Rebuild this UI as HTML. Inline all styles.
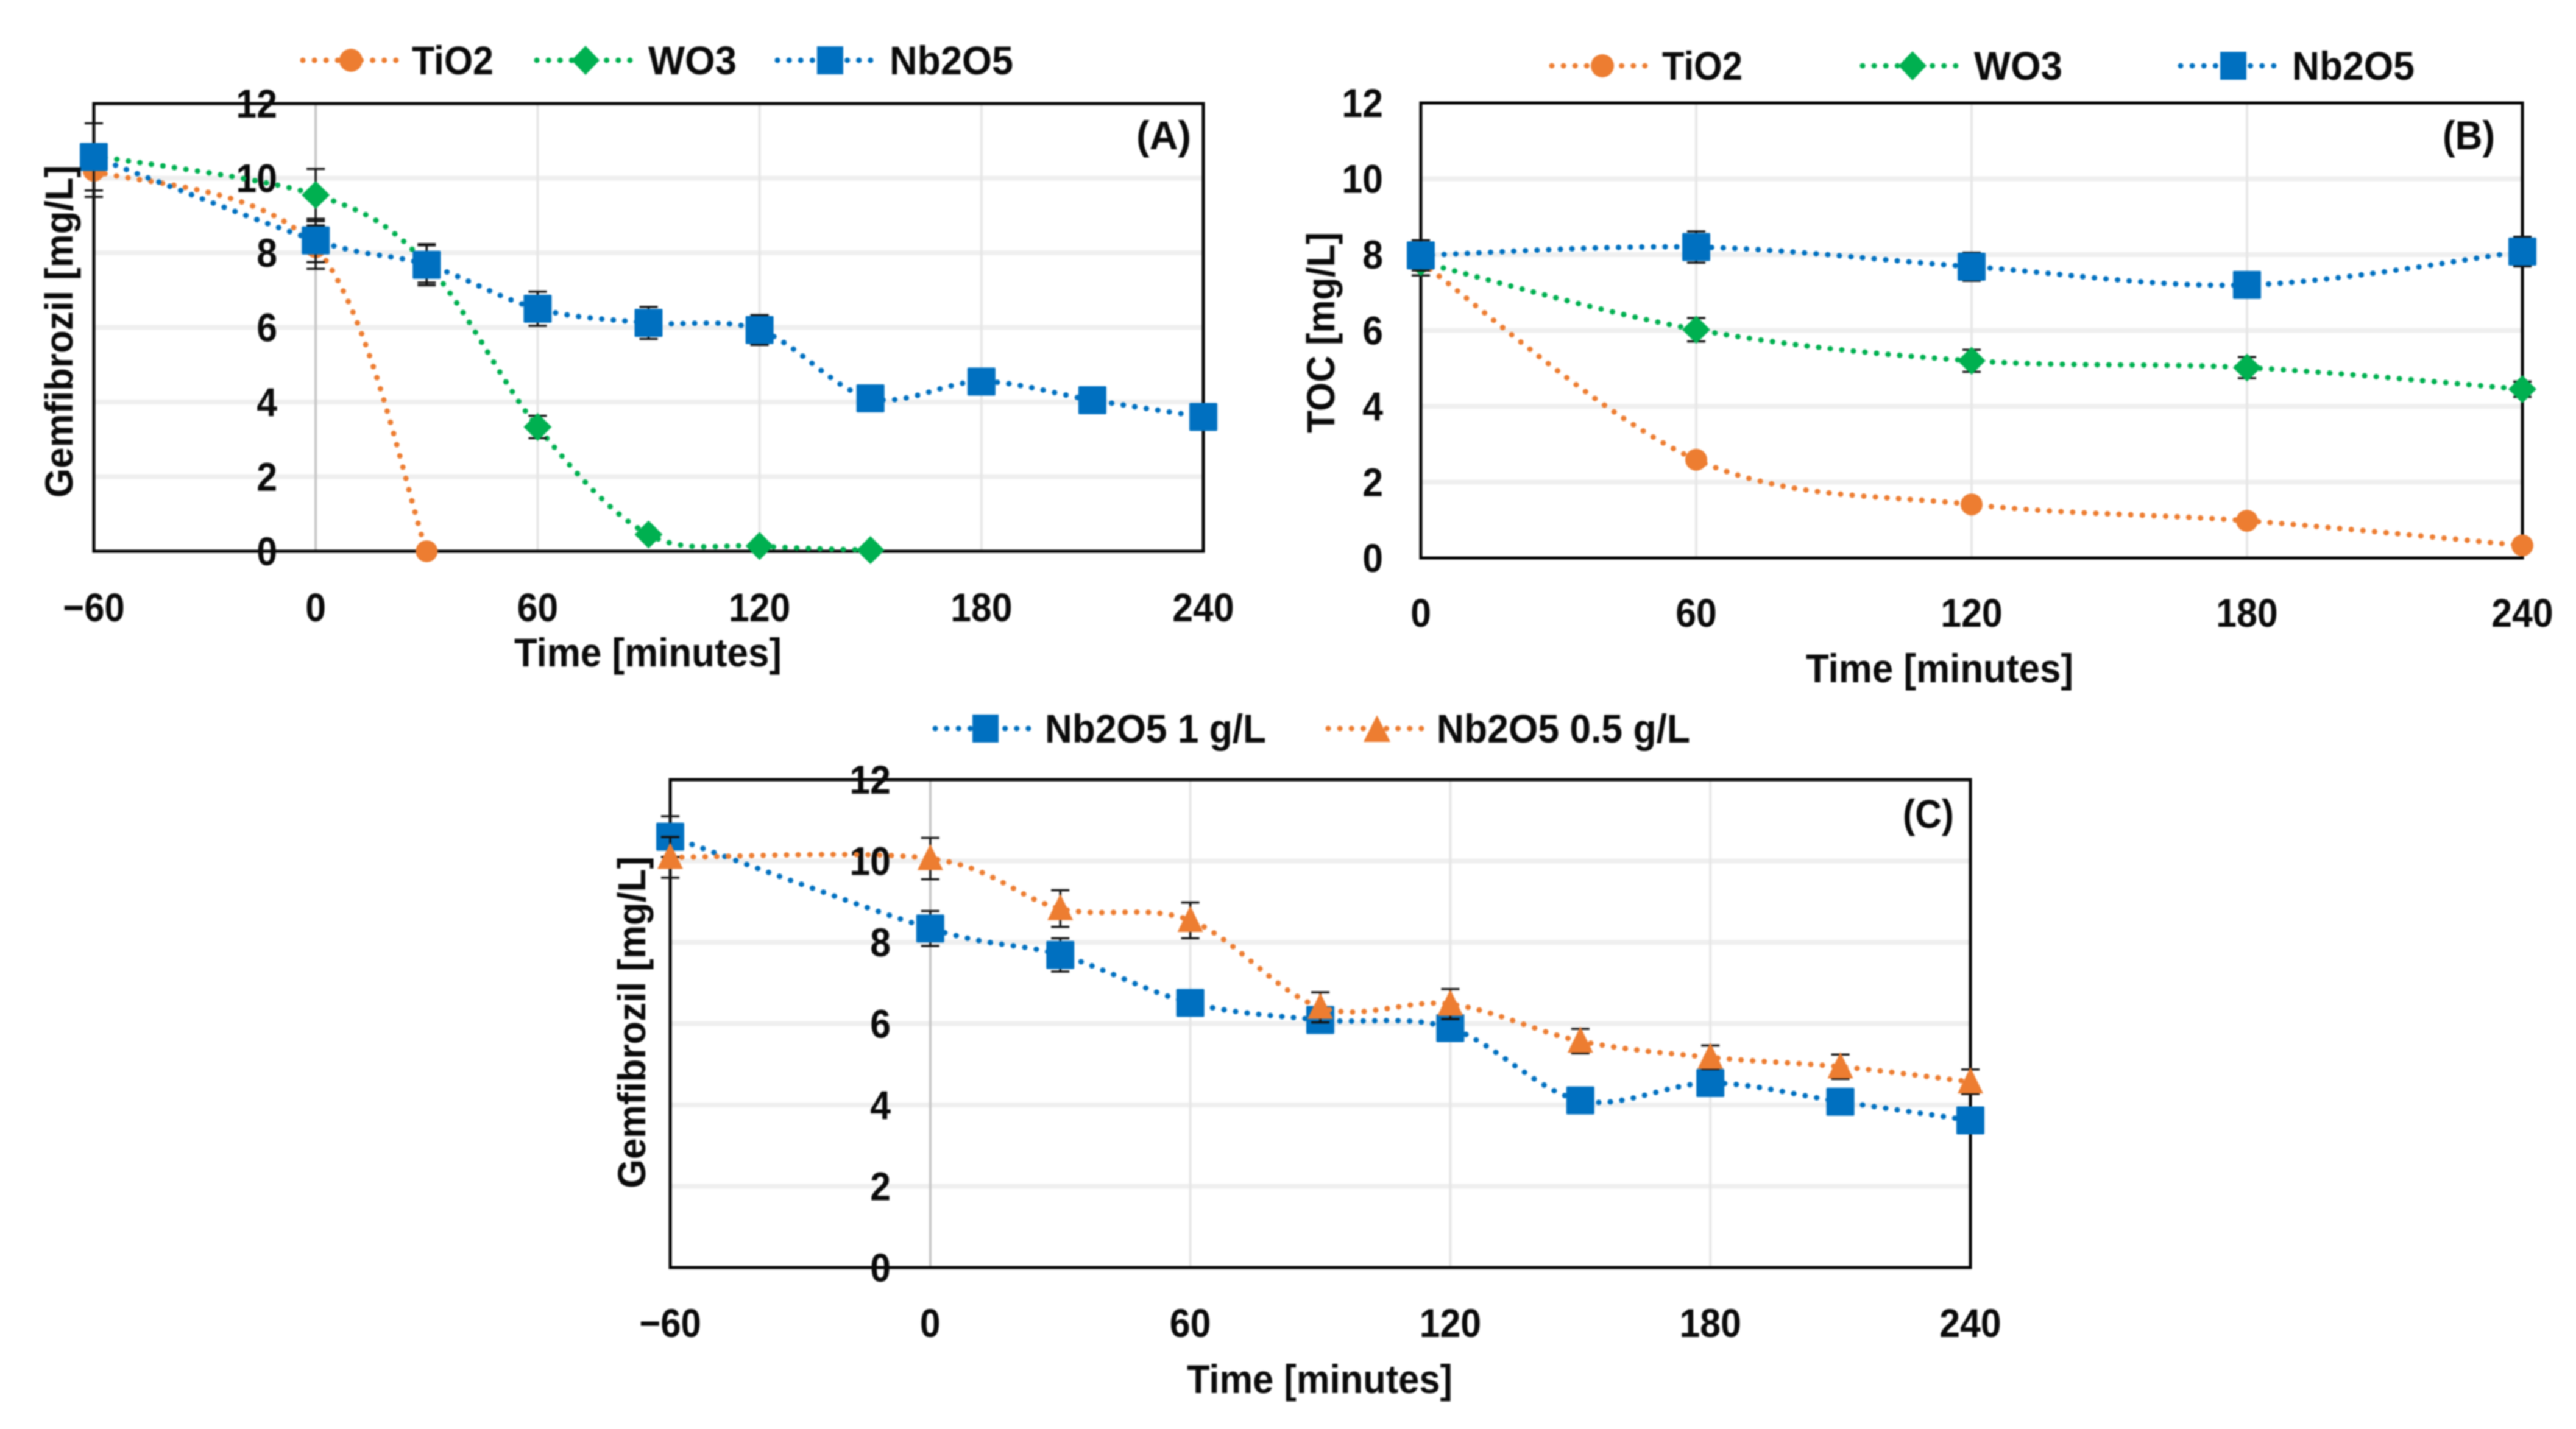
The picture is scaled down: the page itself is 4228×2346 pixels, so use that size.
<!DOCTYPE html>
<html lang="en">
<head>
<meta charset="utf-8">
<title>Gemfibrozil and TOC removal charts</title>
<style>
html,body{margin:0;padding:0;background:#fff;width:4228px;height:2346px;overflow:hidden}
svg{display:block;filter:blur(1.4px)}
text{font-family:"Liberation Sans",sans-serif;font-weight:bold;fill:#0a0a0a}
</style>
</head>
<body>
<svg id="figure" xmlns="http://www.w3.org/2000/svg" width="4228" height="2346" viewBox="0 0 4228 2346">
  <rect width="4228" height="2346" fill="#fff"/>
  <g id="chart-a"></g>
  <g id="chart-b"></g>
  <g id="chart-c"></g>

  <text transform="translate(119,817) rotate(-90)" font-size="64" textLength="546" lengthAdjust="spacingAndGlyphs">Gemfibrozil [mg/L]</text>
  <text x="844" y="1094" font-size="66" textLength="439" lengthAdjust="spacingAndGlyphs">Time [minutes]</text>
  <text x="1865" y="245" font-size="66" textLength="90" lengthAdjust="spacingAndGlyphs">(A)</text>

  <text transform="translate(2190,711) rotate(-90)" font-size="64" textLength="330" lengthAdjust="spacingAndGlyphs">TOC [mg/L]</text>
  <text x="2964" y="1120" font-size="66" textLength="439" lengthAdjust="spacingAndGlyphs">Time [minutes]</text>
  <text x="4009" y="245" font-size="66" textLength="86" lengthAdjust="spacingAndGlyphs">(B)</text>

  <text transform="translate(1059,1951) rotate(-90)" font-size="64" textLength="545" lengthAdjust="spacingAndGlyphs">Gemfibrozil [mg/L]</text>
  <text x="1948" y="2287" font-size="66" textLength="436" lengthAdjust="spacingAndGlyphs">Time [minutes]</text>
  <text x="3123" y="1359" font-size="66" textLength="84" lengthAdjust="spacingAndGlyphs">(C)</text>

  <g>
    <g>
      <line x1="497" y1="99" x2="650" y2="99" stroke="#ED7D31" stroke-width="9" stroke-linecap="round" stroke-dasharray="0.1 19"/>
      <circle cx="576" cy="99" r="19" fill="#ED7D31"/>
      <text x="676" y="122" font-size="66" textLength="134" lengthAdjust="spacingAndGlyphs">TiO2</text>
    </g>
    <g>
      <line x1="881" y1="99" x2="1038" y2="99" stroke="#00B050" stroke-width="9" stroke-linecap="round" stroke-dasharray="0.1 19"/>
      <polygon points="961,75 984,99 961,123 938,99" fill="#00B050"/>
      <text x="1064" y="122" font-size="66" textLength="145" lengthAdjust="spacingAndGlyphs">WO3</text>
    </g>
    <g>
      <line x1="1276" y1="99" x2="1433" y2="99" stroke="#0070C0" stroke-width="9" stroke-linecap="round" stroke-dasharray="0.1 19"/>
      <rect x="1341" y="76" width="43" height="46" fill="#0070C0"/>
      <text x="1460" y="122" font-size="66" textLength="203" lengthAdjust="spacingAndGlyphs">Nb2O5</text>
    </g>
  </g>

  <g>
    <g>
      <line x1="2547" y1="108" x2="2700" y2="108" stroke="#ED7D31" stroke-width="9" stroke-linecap="round" stroke-dasharray="0.1 19"/>
      <circle cx="2630" cy="108" r="19" fill="#ED7D31"/>
      <text x="2728" y="131" font-size="66" textLength="132" lengthAdjust="spacingAndGlyphs">TiO2</text>
    </g>
    <g>
      <line x1="3057" y1="108" x2="3213" y2="108" stroke="#00B050" stroke-width="9" stroke-linecap="round" stroke-dasharray="0.1 19"/>
      <polygon points="3139,84 3162,108 3139,132 3116,108" fill="#00B050"/>
      <text x="3240" y="131" font-size="66" textLength="145" lengthAdjust="spacingAndGlyphs">WO3</text>
    </g>
    <g>
      <line x1="3579" y1="108" x2="3735" y2="108" stroke="#0070C0" stroke-width="9" stroke-linecap="round" stroke-dasharray="0.1 19"/>
      <rect x="3644" y="85" width="43" height="46" fill="#0070C0"/>
      <text x="3762" y="131" font-size="66" textLength="201" lengthAdjust="spacingAndGlyphs">Nb2O5</text>
    </g>
  </g>

  <g>
    <g>
      <line x1="1535" y1="1196" x2="1689" y2="1196" stroke="#0070C0" stroke-width="9" stroke-linecap="round" stroke-dasharray="0.1 19"/>
      <rect x="1596" y="1173" width="43" height="46" fill="#0070C0"/>
      <text x="1715" y="1219" font-size="66" textLength="363" lengthAdjust="spacingAndGlyphs">Nb2O5 1 g/L</text>
    </g>
    <g>
      <line x1="2180" y1="1196" x2="2335" y2="1196" stroke="#ED7D31" stroke-width="9" stroke-linecap="round" stroke-dasharray="0.1 19"/>
      <polygon points="2260,1174 2282,1218 2238,1218" fill="#ED7D31"/>
      <text x="2358" y="1219" font-size="66" textLength="416" lengthAdjust="spacingAndGlyphs">Nb2O5 0.5 g/L</text>
    </g>
  </g>
</svg>

<script>
// ---- shared tick labels ----
const yTicks = [0, 2, 4, 6, 8, 10, 12];
const xTicksWide = [-60, 0, 60, 120, 180, 240];
const xTicksNarrow = [0, 60, 120, 180, 240];

// ---- chart A: Gemfibrozil vs time per catalyst ----
const timesA = [-60, 0, 30, 60, 90, 120, 150, 180, 210, 240];
const tio2TimesA = [-60, 0, 30];
const tio2ValuesA = [10.2, 8.15, 0];
const tio2ErrorsA = [0.7, 0.58, 0];
const wo3TimesA = [-60, 0, 30, 60, 90, 120, 150];
const wo3ValuesA = [10.6, 9.55, 7.7, 3.33, 0.45, 0.14, 0.03];
const wo3ErrorsA = [0.2, 0.7, 0.5, 0.3, 0.05, 0.05, 0];
const nbValuesA = [10.57, 8.33, 7.68, 6.5, 6.12, 5.93, 4.1, 4.55, 4.05, 3.6];
const nbErrorsA = [0.9, 0.58, 0.55, 0.46, 0.43, 0.4, 0.2, 0.2, 0.2, 0.2];

// ---- chart B: TOC vs time per catalyst ----
const timesB = [0, 60, 120, 180, 240];
const tio2ValuesB = [7.8, 2.59, 1.41, 0.98, 0.33];
const tio2ErrorsB = [0.35, 0.1, 0.1, 0.1, 0.05];
const wo3ValuesB = [7.8, 6.02, 5.2, 5.02, 4.45];
const wo3ErrorsB = [0.35, 0.31, 0.29, 0.28, 0.2];
const nbValuesB = [7.98, 8.2, 7.68, 7.2, 8.08];
const nbErrorsB = [0.4, 0.41, 0.37, 0.3, 0.39];

// ---- chart C: Gemfibrozil vs time per dose ----
const timesC = [-60, 0, 30, 60, 90, 120, 150, 180, 210, 240];
const nb1ValuesC = [10.6, 8.34, 7.69, 6.51, 6.09, 5.89, 4.11, 4.54, 4.08, 3.62];
const nb1ErrorsC = [0.5, 0.43, 0.41, 0.2, 0.2, 0.2, 0.2, 0.2, 0.2, 0.2];
const nb05ValuesC = [10.09, 10.06, 8.83, 8.54, 6.4, 6.48, 5.57, 5.17, 4.94, 4.57];
const nb05ErrorsC = [0.5, 0.51, 0.45, 0.44, 0.37, 0.37, 0.3, 0.29, 0.3, 0.3];

const SVG_NS = 'http://www.w3.org/2000/svg';
const ORANGE = '#ED7D31', GREEN = '#00B050', BLUE = '#0070C0';

function mk(parent, tag, attrs) {
  const el = document.createElementNS(SVG_NS, tag);
  for (const k in attrs) el.setAttribute(k, attrs[k]);
  
  parent.appendChild(el);
  return el;
}

function smoothPath(pts) {
  let d = 'M' + pts[0][0] + ' ' + pts[0][1];
  for (let i = 0; i < pts.length - 1; i++) {
    const p0 = pts[Math.max(i - 1, 0)], p1 = pts[i], p2 = pts[i + 1], p3 = pts[Math.min(i + 2, pts.length - 1)];
    const c1x = p1[0] + (p2[0] - p0[0]) / 6, c1y = p1[1] + (p2[1] - p0[1]) / 6;
    const c2x = p2[0] - (p3[0] - p1[0]) / 6, c2y = p2[1] - (p3[1] - p1[1]) / 6;
    d += ' C' + c1x + ' ' + c1y + ' ' + c2x + ' ' + c2y + ' ' + p2[0] + ' ' + p2[1];
  }
  return d;
}

function tickText(root, x, y, anchor, str) {
  const label = mk(root, 'text', { x: x, y: y, 'font-size': 66, 'text-anchor': anchor, textLength: str.length * 33.8, lengthAdjust: 'spacingAndGlyphs' });
  label.textContent = str;
  return label;
}

function drawAxes(root, box, xTicks, yLabelRight, xLabelBaseline, boldZero) {
  const xs = t => box.left + (t - box.xMin) / (box.xMax - box.xMin) * (box.right - box.left);
  const ys = v => box.bottom - v / 12 * (box.bottom - box.top);
  yTicks.forEach(v => {
    if (v === 0 || v === 12) return;
    const grid = mk(root, 'line', { x1: box.left, x2: box.right, y1: ys(v), y2: ys(v), stroke: '#efefef', 'stroke-width': 8 });
    
  });
  xTicks.forEach(t => {
    if (t === box.xMin || t === box.xMax) return;
    const grid = mk(root, 'line', { x1: xs(t), x2: xs(t), y1: box.top, y2: box.bottom, stroke: (t === 0 && boldZero) ? '#c4c4c4' : '#e6e6e6', 'stroke-width': 4 });
    
  });
  const frame = mk(root, 'rect', { x: box.left, y: box.top, width: box.right - box.left, height: box.bottom - box.top, fill: 'none', stroke: '#000', 'stroke-width': 5 });
  
  yTicks.forEach(v => {
    const label = tickText(root, yLabelRight, ys(v) + 23, 'end', String(v));
    
  });
  xTicks.forEach(t => {
    const label = tickText(root, xs(t), xLabelBaseline + 2, 'middle', String(t).replace('-', '\u2212'));
    
  });
  return { xs, ys };
}

function drawSeries(root, scale, times, values, errors, color, shape, name) {
  const pts = times.map((t, i) => [scale.xs(t), scale.ys(values[i])]);
  const line = mk(root, 'path', { d: smoothPath(pts), fill: 'none', stroke: color, 'stroke-width': 9, 'stroke-linecap': 'round', 'stroke-dasharray': '0.1 19' });
  
  times.forEach((t, i) => {
    const x = scale.xs(t), hi = scale.ys(values[i] + errors[i]), lo = scale.ys(values[i] - errors[i]);
    const g = mk(root, 'path', { d: 'M' + x + ' ' + hi + ' V' + lo + ' M' + (x - 15) + ' ' + hi + ' H' + (x + 15) + ' M' + (x - 15) + ' ' + lo + ' H' + (x + 15), fill: 'none', stroke: '#111', 'stroke-width': 3.5 });
    
  });
  pts.forEach(p => {
    let m;
    if (shape === 'circle') {
      m = mk(root, 'circle', { cx: p[0], cy: p[1], r: 18, fill: color });
    } else if (shape === 'diamond') {
      m = mk(root, 'polygon', { points: [[p[0], p[1] - 23], [p[0] + 23, p[1]], [p[0], p[1] + 23], [p[0] - 23, p[1]]].join(' '), fill: color });
    } else if (shape === 'triangle') {
      m = mk(root, 'polygon', { points: [[p[0], p[1] - 24], [p[0] + 21, p[1] + 19], [p[0] - 21, p[1] + 19]].join(' '), fill: color });
    } else {
      m = mk(root, 'rect', { x: p[0] - 23, y: p[1] - 23, width: 46, height: 46, rx: 2, fill: color });
    }
    
  });
}

// chart A
const rootA = document.getElementById('chart-a');
const scaleA = drawAxes(rootA, { left: 154, right: 1975, top: 170, bottom: 905, xMin: -60, xMax: 240 }, xTicksWide, 455, 1018, true);
drawSeries(rootA, scaleA, tio2TimesA, tio2ValuesA, tio2ErrorsA, ORANGE, 'circle', 'tio2');
drawSeries(rootA, scaleA, wo3TimesA, wo3ValuesA, wo3ErrorsA, GREEN, 'diamond', 'wo3');
drawSeries(rootA, scaleA, timesA, nbValuesA, nbErrorsA, BLUE, 'square', 'nb2o5');

// chart B
const rootB = document.getElementById('chart-b');
const scaleB = drawAxes(rootB, { left: 2332, right: 4140, top: 169, bottom: 916, xMin: 0, xMax: 240 }, xTicksNarrow, 2270, 1027, false);
drawSeries(rootB, scaleB, timesB, tio2ValuesB, tio2ErrorsB, ORANGE, 'circle', 'tio2');
drawSeries(rootB, scaleB, timesB, wo3ValuesB, wo3ErrorsB, GREEN, 'diamond', 'wo3');
drawSeries(rootB, scaleB, timesB, nbValuesB, nbErrorsB, BLUE, 'square', 'nb2o5');

// chart C
const rootC = document.getElementById('chart-c');
const scaleC = drawAxes(rootC, { left: 1100, right: 3234, top: 1280, bottom: 2081, xMin: -60, xMax: 240 }, xTicksWide, 1462, 2193, true);
drawSeries(rootC, scaleC, timesC, nb1ValuesC, nb1ErrorsC, BLUE, 'square', 'nb2o5-1gl');
drawSeries(rootC, scaleC, timesC, nb05ValuesC, nb05ErrorsC, ORANGE, 'triangle', 'nb2o5-05gl');
</script>
</body>
</html>
